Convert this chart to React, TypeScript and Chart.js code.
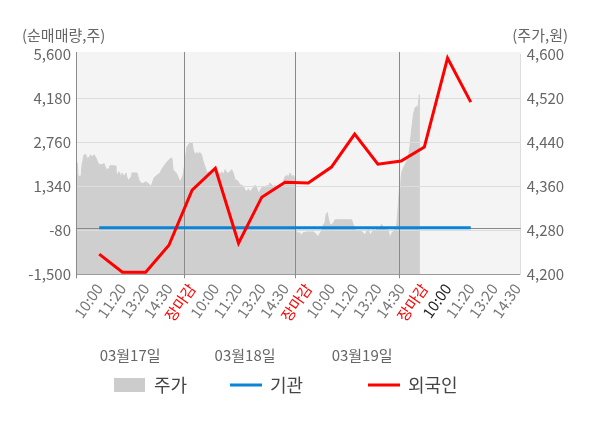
import { useEffect, useRef } from "react";
import { Chart, registerables } from "chart.js";

Chart.register(...registerables);

const FONT = "'Noto Sans CJK KR', 'Noto Sans', sans-serif";

// x-axis tick labels (placed at time index 1..19)
const timeLabels = [
  "10:00", "11:20", "13:20", "14:30", "장마감",
  "10:00", "11:20", "13:20", "14:30", "장마감",
  "10:00", "11:20", "13:20", "14:30", "장마감",
  "10:00", "11:20", "13:20", "14:30",
];
const tickPositions = timeLabels.map((_, i) => i + 1);
const tickColors = timeLabels.map((t, i) => (t === "장마감" ? "#ff0000" : i === 15 ? "#222222" : "#777777"));

// net buying (shares), left axis, at time index 1..17
const foreignValues = [-850, -1435, -1435, -565, 1210, 1920, -500, 985, 1470, 1440, 1955, 3020, 2050, 2150, 2600, 5470, 4050];
const institutionValues = [0, 0, 0, 0, 0, 0, 0, 0, 0, 0, 0, 0, 0, 0, 0, 0, 0];

// stock price (won), right axis
const pricePositions = [
  0, 0.06, 0.09, 0.22, 0.26, 0.35, 0.43, 0.47, 0.52, 0.56, 0.62, 0.69, 0.78, 0.86, 0.95, 1.03, 1.12, 1.21, 1.29, 1.42,
  1.46, 1.68, 1.72, 1.77, 1.85, 1.94, 1.98, 2.07, 2.15, 2.2, 2.28, 2.37, 2.41, 2.63, 2.71, 2.8, 2.84, 3.01, 3.14, 3.23,
  3.36, 3.49, 3.62, 3.7, 3.83, 3.92, 4.05, 4.13, 4.18, 4.31, 4.39, 4.48, 4.52, 4.61,
  4.69, 4.77, 4.91, 5.0, 5.05, 5.12, 5.2, 5.27, 5.34, 5.41, 5.48, 5.56, 5.63, 5.7, 5.77, 5.84, 5.91, 5.99, 6.06, 6.13,
  6.2, 6.27, 6.34, 6.42, 6.49, 6.56, 6.63, 6.7, 6.77, 6.85, 6.92, 6.99, 7.06, 7.14, 7.21, 7.28, 7.35, 7.42, 7.49, 7.56,
  7.63, 7.71, 7.78, 7.85, 7.92, 7.99, 8.07, 8.14, 8.21, 8.28, 8.35, 8.43, 8.5, 8.57, 8.64, 8.71, 8.79, 8.86, 8.93, 9.0,
  9.07, 9.15, 9.22, 9.29, 9.36, 9.39,
  9.43, 9.5, 9.53, 9.65, 9.69, 9.76, 9.86, 9.93, 10.22, 10.29, 10.37, 10.43, 10.51, 10.58, 10.65, 10.72, 10.77, 10.82,
  10.86, 10.94, 11.01, 11.08, 11.16, 11.87, 11.94, 12.02, 12.09, 12.23, 12.3, 12.37, 12.45, 12.52, 12.59, 12.66, 12.73,
  12.8, 12.88, 12.95, 13.02, 13.09, 13.16, 13.23, 13.31, 13.38, 13.45, 13.52, 13.6, 13.67, 13.74, 13.81, 13.85,
  13.93, 13.98, 14.0, 14.04, 14.1, 14.17, 14.24, 14.31, 14.38, 14.46, 14.53, 14.6, 14.67, 14.71, 14.74, 14.78, 14.81,
];
const priceValues = [
  4402, 4402, 4378, 4378, 4399, 4417, 4417, 4402, 4413, 4408, 4417, 4413, 4417, 4411, 4402, 4399, 4399, 4401, 4391, 4391,
  4397, 4397, 4386, 4380, 4386, 4377, 4384, 4377, 4384, 4375, 4370, 4377, 4384, 4384, 4371, 4366, 4364, 4368, 4364, 4359,
  4375, 4380, 4384, 4391, 4399, 4404, 4410, 4411, 4390, 4384, 4377, 4368, 4371, 4380,
  4402, 4431, 4439, 4439, 4426, 4417, 4421, 4419, 4421, 4417, 4404, 4395, 4384, 4386, 4384, 4390, 4386, 4393, 4384, 4386,
  4380, 4386, 4380, 4390, 4384, 4384, 4386, 4390, 4384, 4371, 4371, 4368, 4362, 4362, 4359, 4353, 4350, 4355, 4350, 4353,
  4357, 4362, 4357, 4348, 4351, 4357, 4359, 4357, 4362, 4359, 4366, 4362, 4359, 4362, 4357, 4359, 4362, 4357, 4368, 4377,
  4380, 4377, 4384, 4377, 4380, 4377,
  4278, 4278, 4275, 4275, 4268, 4275, 4276, 4277, 4277, 4275, 4271, 4268, 4275, 4279, 4290, 4293, 4308, 4312,
  4302, 4290, 4290, 4293, 4299, 4299, 4290, 4281, 4279, 4279, 4278, 4275, 4271, 4278, 4281, 4271, 4275,
  4281, 4279, 4282, 4284, 4284, 4291, 4284, 4281, 4284, 4279, 4265, 4275, 4278, 4282, 4287, 4308,
  4356, 4356, 4375, 4387, 4393, 4399, 4405, 4411, 4432, 4465, 4490, 4502, 4505, 4499, 4508, 4526, 4526,
];

const priceBase = 4200;
const dayBreaks = [4.66, 9.41, 13.92];
const dateLabels = ["03월17일", "03월18일", "03월19일"];
const datePositions = [2.33, 7.28, 12.32];
const leftTicks = [-1500, -80, 1340, 2760, 4180, 5600];
const rightTicks = [4200, 4280, 4360, 4440, 4520, 4600];
const seriesNames = ["주가", "기관", "외국인"];
const legendX = [114, 230, 368];
const AREA_COLOR = "#cfcfcf";

const fmt = (v: number) => v.toLocaleString("en-US");

const decorPlugin = {
  id: "decor",
  beforeDraw(chart: any) {
    const { ctx, chartArea: a } = chart;
    ctx.save();
    ctx.fillStyle = "#f4f4f4";
    ctx.fillRect(a.left, a.top - 2, a.right - a.left, a.bottom - a.top + 2);
    ctx.restore();
  },
  beforeDatasetDraw(chart: any, args: any) {
    if (args.index !== 0) return;
    const { ctx, chartArea: a, scales } = chart;
    const pts = chart.getDatasetMeta(0).data;
    if (!pts.length) return;
    const base = scales.y1.getPixelForValue(priceBase);
    ctx.save();
    ctx.beginPath();
    ctx.rect(a.left, a.top, a.right - a.left, a.bottom - a.top);
    ctx.clip();
    ctx.beginPath();
    ctx.moveTo(pts[0].x, base);
    pts.forEach((p: any) => ctx.lineTo(p.x, p.y));
    ctx.lineTo(pts[pts.length - 1].x, base);
    ctx.closePath();
    ctx.fillStyle = AREA_COLOR;
    ctx.fill();
    ctx.restore();
  },
  afterDatasetDraw(chart: any, args: any) {
    if (args.index !== 0) return;
    const { ctx, chartArea: a, scales } = chart;
    const y = scales.y;
    const x = scales.x;
    ctx.save();
    ctx.lineWidth = 1;
    ctx.strokeStyle = "#dcdcdc";
    leftTicks.slice(1, -1).forEach((t) => {
      const py = Math.round(y.getPixelForValue(t)) + 0.5;
      ctx.beginPath();
      ctx.moveTo(a.left, py);
      ctx.lineTo(a.right, py);
      ctx.stroke();
    });
    ctx.strokeStyle = "#8a8a8a";
    const zy = Math.round(y.getPixelForValue(0)) + 0.5;
    ctx.beginPath();
    ctx.moveTo(a.left, zy);
    ctx.lineTo(a.right, zy);
    ctx.stroke();
    [0, ...dayBreaks].forEach((d) => {
      const px = Math.round(x.getPixelForValue(d)) + 0.5;
      ctx.beginPath();
      ctx.moveTo(px, a.top - 2);
      ctx.lineTo(px, a.bottom + 4);
      ctx.stroke();
    });
    ctx.restore();
  },
  afterDraw(chart: any) {
    const { ctx, chartArea: a, scales } = chart;
    ctx.save();
    ctx.fillStyle = "#666666";
    ctx.font = `15px ${FONT}`;
    ctx.textBaseline = "middle";
    ctx.textAlign = "left";
    ctx.fillText("(순매매량,주)", 22, a.top - 19);
    ctx.textAlign = "right";
    ctx.fillText("(주가,원)", 568, a.top - 19);
    ctx.textAlign = "center";
    dateLabels.forEach((t, i) => {
      ctx.fillText(t, scales.x.getPixelForValue(datePositions[i]), a.bottom + 81);
    });
    // legend
    const ly = 385;
    ctx.font = `18px ${FONT}`;
    ctx.textAlign = "left";
    chart.data.datasets.forEach((ds: any, i: number) => {
      const lx = legendX[i];
      if (i === 0) {
        ctx.fillStyle = "#cccccc";
        ctx.fillRect(lx, ly - 7, 31, 14);
      } else {
        ctx.strokeStyle = ds.borderColor;
        ctx.lineWidth = 3;
        ctx.beginPath();
        ctx.moveTo(lx, ly);
        ctx.lineTo(lx + 32, ly);
        ctx.stroke();
      }
      ctx.fillStyle = "#444444";
      ctx.fillText(ds.label, lx + 40, ly);
    });
    ctx.restore();
  },
};

export default function App() {
  const ref = useRef<HTMLCanvasElement | null>(null);
  useEffect(() => {
    if (!ref.current) return;
    Chart.defaults.font.family = FONT;
    const chart = new Chart(ref.current, {
      type: "line",
      data: {
        datasets: [
          {
            label: seriesNames[0],
            data: pricePositions.map((p, i) => ({ x: p, y: priceValues[i] })),
            yAxisID: "y1",
            fill: false,
            backgroundColor: AREA_COLOR,
            borderWidth: 1,
            borderColor: AREA_COLOR,
            pointRadius: 0,
            order: 3,
          },
          {
            label: seriesNames[1],
            data: institutionValues.map((v, i) => ({ x: tickPositions[i], y: v })),
            yAxisID: "y",
            borderColor: "#0a84d6",
            borderWidth: 3,
            pointRadius: 0,
            fill: false,
            order: 2,
          },
          {
            label: seriesNames[2],
            data: foreignValues.map((v, i) => ({ x: tickPositions[i], y: v })),
            yAxisID: "y",
            borderColor: "#ff0000",
            borderWidth: 3,
            pointRadius: 0,
            fill: false,
            order: 1,
          },
        ],
      },
      options: {
        animation: false,
        responsive: true,
        maintainAspectRatio: false,
        layout: { padding: { top: 54, left: 0, right: 0, bottom: 0 } },
        plugins: {
          legend: { display: false },
          tooltip: { enabled: false },
        },
        scales: {
          x: {
            type: "linear",
            min: 0,
            max: 19.15,
            afterBuildTicks: (s: any) => {
              s.ticks = tickPositions.map((v) => ({ value: v }));
            },
            afterFit: (s: any) => {
              s.height = 153.7;
            },
            grid: { display: false, drawTicks: false },
            border: { display: true, color: "#999999" },
            ticks: {
              autoSkip: false,
              minRotation: 55,
              maxRotation: 55,
              padding: 6,
              font: { size: 15, family: FONT },
              color: (c: any) => tickColors[c.index],
              callback: (_v: any, i: number) => timeLabels[i],
            },
          },
          y: {
            type: "linear",
            position: "left",
            min: -1500,
            max: 5600,
            afterBuildTicks: (s: any) => {
              s.ticks = leftTicks.map((v) => ({ value: v }));
            },
            afterFit: (s: any) => {
              s.width = 76;
            },
            grid: { display: false, drawTicks: false },
            border: { display: true, color: "#8a8a8a" },
            ticks: {
              padding: 5,
              color: "#666666",
              font: { size: 15, family: FONT },
              callback: (v: any) => fmt(Number(v)),
            },
          },
          y1: {
            type: "linear",
            position: "right",
            min: 4200,
            max: 4600,
            afterBuildTicks: (s: any) => {
              s.ticks = rightTicks.map((v) => ({ value: v }));
            },
            afterFit: (s: any) => {
              s.width = 79.3;
            },
            grid: { display: false, drawTicks: false },
            border: { display: true, color: "#dddddd" },
            ticks: {
              padding: 6,
              color: "#666666",
              font: { size: 15, family: FONT },
              callback: (v: any) => fmt(Number(v)),
            },
          },
        },
      },
      plugins: [decorPlugin],
    });
    return () => chart.destroy();
  }, []);

  return (
    <div style={{ position: "absolute", left: 0, top: 0, width: 600, height: 428, background: "#ffffff" }}>
      <canvas ref={ref} />
    </div>
  );
}
